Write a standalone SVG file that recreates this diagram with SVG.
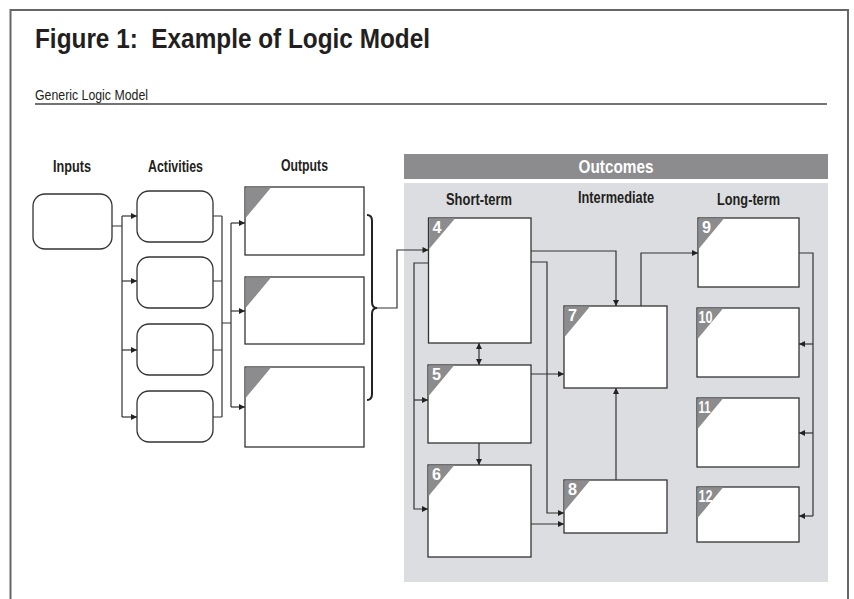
<svg xmlns="http://www.w3.org/2000/svg" width="854" height="599" viewBox="0 0 854 599">
<style>
.t{font-family:"Liberation Sans",Arial,sans-serif;fill:#231f20;white-space:pre}
.b{font-weight:bold}
.h{font-size:16px;font-weight:bold;text-anchor:middle}
.num{font-family:"Liberation Sans",Arial,sans-serif;font-size:16px;font-weight:bold;fill:#ffffff}
.rb{fill:#ffffff;stroke:#333333;stroke-width:1.3}
.tri{fill:#8c8c8e}
.c{fill:none;stroke:#333333;stroke-width:1.2}
.ca{fill:none;stroke:#333333;stroke-width:1.2;marker-end:url(#ah)}
</style>
<defs>
<marker id="ah" viewBox="0 0 10 10" refX="10" refY="5" markerWidth="8" markerHeight="6" markerUnits="userSpaceOnUse" orient="auto">
<path d="M0,0 L10,5 L0,10 z" fill="#222222"/>
</marker>
<marker id="ahs" viewBox="0 0 10 10" refX="0" refY="5" markerWidth="8" markerHeight="6" markerUnits="userSpaceOnUse" orient="auto">
<path d="M10,0 L0,5 L10,10 z" fill="#222222"/>
</marker>
</defs>
<rect x="0" y="0" width="854" height="599" fill="#ffffff"/>
<path d="M10.5,620 V10 H848 V620" fill="none" stroke="#666666" stroke-width="2"/>
<g id="title">
<text class="t b" x="35" y="48" font-size="28" textLength="395" lengthAdjust="spacingAndGlyphs">Figure 1:  Example of Logic Model</text>
<text class="t" x="35" y="100" font-size="14" textLength="113" lengthAdjust="spacingAndGlyphs">Generic Logic Model</text>
<line x1="35" y1="104" x2="827" y2="104" stroke="#444444" stroke-width="1.3"/>
</g>
<g id="headers">
<text class="t h" x="72" y="172" textLength="38" lengthAdjust="spacingAndGlyphs">Inputs</text>
<text class="t h" x="175.5" y="172" textLength="55" lengthAdjust="spacingAndGlyphs">Activities</text>
<text class="t h" x="304.5" y="171" textLength="47" lengthAdjust="spacingAndGlyphs">Outputs</text>
</g>
<g id="outcomes-panel">
<rect x="404" y="154" width="424" height="25" fill="#8c8c8e"/>
<text class="b" x="616" y="173" font-family="Liberation Sans,Arial,sans-serif" font-size="18" fill="#ffffff" text-anchor="middle" textLength="75" lengthAdjust="spacingAndGlyphs">Outcomes</text>
<rect x="404" y="183" width="424" height="399" fill="#dcdde0"/>
<text class="t h" x="479" y="205" textLength="66" lengthAdjust="spacingAndGlyphs">Short-term</text>
<text class="t h" x="616" y="203" textLength="76" lengthAdjust="spacingAndGlyphs">Intermediate</text>
<text class="t h" x="748.5" y="205" textLength="63" lengthAdjust="spacingAndGlyphs">Long-term</text>
</g>
<g id="input1"><rect class="rb" x="33" y="194" width="79" height="55" rx="12"/></g>
<g id="activity1"><rect class="rb" x="137" y="191" width="76" height="51" rx="12"/></g>
<g id="activity2"><rect class="rb" x="137" y="257" width="76" height="51" rx="12"/></g>
<g id="activity3"><rect class="rb" x="137" y="324" width="76" height="51" rx="12"/></g>
<g id="activity4"><rect class="rb" x="137" y="391" width="76" height="51" rx="12"/></g>
<g id="output1"><rect class="rb" x="245" y="187" width="119" height="68"/><path class="tri" d="M245.6,187.6 H271 L245.6,218 z"/></g>
<g id="output2"><rect class="rb" x="245" y="277" width="119" height="67"/><path class="tri" d="M245.6,277.6 H271 L245.6,308 z"/></g>
<g id="output3"><rect class="rb" x="245" y="367" width="119" height="80"/><path class="tri" d="M245.6,367.6 H271 L245.6,398 z"/></g>
<g id="box4"><rect class="rb" x="428.5" y="218" width="102.5" height="125"/><path class="tri" d="M429.1,218.6 H455 L429.1,249 z"/><text class="num" x="432.5" y="233" textLength="9" lengthAdjust="spacingAndGlyphs">4</text></g>
<g id="box5"><rect class="rb" x="428" y="365" width="103" height="78"/><path class="tri" d="M428.6,365.6 H454 L428.6,396 z"/><text class="num" x="432" y="380" textLength="9" lengthAdjust="spacingAndGlyphs">5</text></g>
<g id="box6"><rect class="rb" x="428" y="465" width="103" height="92"/><path class="tri" d="M428.6,465.6 H454 L428.6,496 z"/><text class="num" x="432" y="480" textLength="9" lengthAdjust="spacingAndGlyphs">6</text></g>
<g id="box7"><rect class="rb" x="564" y="306" width="103" height="82"/><path class="tri" d="M564.6,306.6 H590 L564.6,337 z"/><text class="num" x="568" y="321" textLength="9" lengthAdjust="spacingAndGlyphs">7</text></g>
<g id="box8"><rect class="rb" x="564" y="480" width="103" height="53"/><path class="tri" d="M564.6,480.6 H590 L564.6,511 z"/><text class="num" x="568" y="495" textLength="9" lengthAdjust="spacingAndGlyphs">8</text></g>
<g id="box9"><rect class="rb" x="698" y="218" width="101" height="69"/><path class="tri" d="M698.6,218.6 H724 L698.6,249 z"/><text class="num" x="702" y="233" textLength="9" lengthAdjust="spacingAndGlyphs">9</text></g>
<g id="box10"><rect class="rb" x="697" y="308" width="102" height="69"/><path class="tri" d="M697.6,308.6 H723 L697.6,339 z"/><text class="num" x="698.5" y="323" textLength="14" lengthAdjust="spacingAndGlyphs">10</text></g>
<g id="box11"><rect class="rb" x="697" y="398" width="102" height="69"/><path class="tri" d="M697.6,398.6 H723 L697.6,429 z"/><text class="num" x="698.5" y="413" textLength="12" lengthAdjust="spacingAndGlyphs">11</text></g>
<g id="box12"><rect class="rb" x="697" y="487" width="102" height="55"/><path class="tri" d="M697.6,487.6 H723 L697.6,518 z"/><text class="num" x="698.5" y="502" textLength="14" lengthAdjust="spacingAndGlyphs">12</text></g>
<g id="connectors">
<path class="c" d="M112,226 H122 M122,216 V417"/>
<path class="ca" d="M122,216 H137"/>
<path class="ca" d="M122,281 H137"/>
<path class="ca" d="M122,350 H137"/>
<path class="ca" d="M122,417 H137"/>
<path class="c" d="M213,216 H222 M213,281 H222 M213,350 H222 M213,417 H222 M222,216 V417 M222,323 H231 M231,223 V407"/>
<path class="ca" d="M231,223 H245"/>
<path class="ca" d="M231,311 H245"/>
<path class="ca" d="M231,407 H245"/>
<path fill="none" stroke="#222222" stroke-width="2" d="M367,215 Q372,215 372,221 V302 Q372,308 377,308 Q372,308 372,314 V394 Q372,400 367,400"/>
<path class="ca" d="M377,308 H397 V250 H428.5"/>
<path class="ca" d="M428.5,263 H414 V509 H428"/>
<path class="ca" d="M414,400 H428"/>
<path class="ca" d="M531,251 H616 V306"/>
<path class="ca" d="M531,262 H547 V513 H564"/>
<path class="ca" style="marker-start:url(#ahs)" d="M479,343 V365"/>
<path class="ca" d="M531,374 H564"/>
<path class="ca" d="M479,443 V465"/>
<path class="ca" d="M531,524 H564"/>
<path class="ca" d="M616,480 V388"/>
<path class="ca" d="M641,306 V253 H698"/>
<path class="c" d="M799,253 H813 V516"/>
<path class="ca" d="M813,344 H799"/>
<path class="ca" d="M813,433 H799"/>
<path class="ca" d="M813,516 H799"/>
</g>
</svg>
